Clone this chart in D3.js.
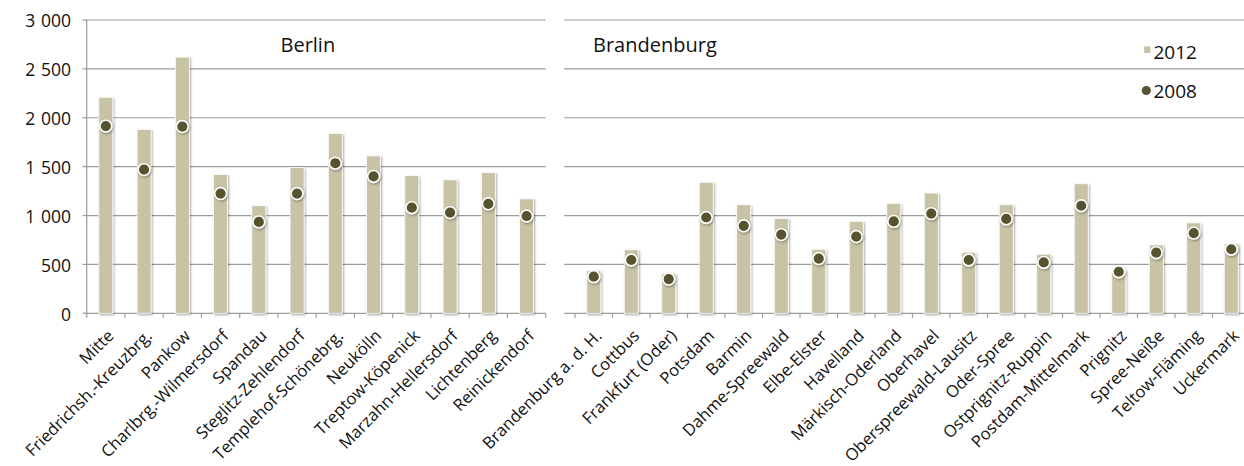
<!DOCTYPE html>
<html>
<head>
<meta charset="utf-8">
<script src="https://cdn.jsdelivr.net/npm/d3@7"></script>
<style>
  html, body { margin: 0; padding: 0; background: #fff; }
  svg { display: block; font-family: "Open Sans", "Noto Sans", sans-serif; }
</style>
</head>
<body>
<svg id="chart" width="1244" height="466"></svg>
<script>
// Districts of Berlin
const berlinDistricts = ["Mitte", "Friedrichsh.-Kreuzbrg.", "Pankow", "Charlbrg.-Wilmersdorf", "Spandau",
  "Steglitz-Zehlendorf", "Templehof-Schönebrg.", "Neukölln", "Treptow-Köpenick", "Marzahn-Hellersdorf",
  "Lichtenberg", "Reinickendorf"];
const berlin2012 = [2210, 1880, 2620, 1420, 1100, 1490, 1840, 1610, 1410, 1365, 1440, 1170];
const berlin2008 = [1915, 1470, 1910, 1225, 935, 1225, 1535, 1400, 1080, 1030, 1120, 995];

// Districts and cities of Brandenburg
const brbDistricts = ["Brandenburg a. d. H.", "Cottbus", "Frankfurt (Oder)", "Potsdam", "Barmin",
  "Dahme-Spreewald", "Elbe-Elster", "Havelland", "Märkisch-Oderland", "Oberhavel",
  "Oberspreewald-Lausitz", "Oder-Spree", "Ostprignitz-Ruppin", "Postdam-Mittelmark", "Prignitz",
  "Spree-Neiße", "Teltow-Fläming", "Uckermark"];
const brb2012 = [435, 650, 405, 1340, 1110, 970, 655, 940, 1125, 1230, 625, 1110, 605, 1325, 440, 700, 925, 710];
const brb2008 = [375, 545, 350, 980, 895, 805, 560, 785, 940, 1020, 545, 965, 520, 1100, 425, 620, 820, 655];

const yTicks = [0, 500, 1000, 1500, 2000, 2500, 3000];
const seriesNames = ["2012", "2008"];

const barColor = "#c8c3a5";
const dotColor = "#57532f";
const gridColor = "#9c9c9c";

const svg = d3.select("#chart");

const defs = svg.append("defs");
const shadow = defs.append("filter").attr("id", "shadow")
  .attr("x", "-50%").attr("y", "-50%").attr("width", "200%").attr("height", "200%");
shadow.append("feDropShadow").attr("dx", 1).attr("dy", 1.2).attr("stdDeviation", 1.1)
  .attr("flood-color", "#000").attr("flood-opacity", 0.35);

const locale = d3.formatLocale({ decimal: ",", thousands: "\u2009\u2009", grouping: [3], currency: ["", ""] });
const fmt = locale.format(",d");

const y = d3.scaleLinear().domain([0, 3000]).range([313.3, 20]);

const panels = [
  { title: "Berlin", names: berlinDistricts, v2012: berlin2012, v2008: berlin2008,
    range: [86.7, 545.7], gridFrom: 86.7, gridTo: 545.7, titleX: 280.5 },
  { title: "Brandenburg", names: brbDistricts, v2012: brb2012, v2008: brb2008,
    range: [575, 1250], gridFrom: 564.3, gridTo: 1250, titleX: 593 }
];

// y axis labels and left axis line
const yAxisG = svg.append("g");
yAxisG.selectAll("text").data(yTicks).join("text")
  .attr("x", 71).attr("y", d => y(d)).attr("dy", "0.42em")
  .attr("text-anchor", "end").attr("font-size", 17.5).attr("fill", "#111")
  .text(d => fmt(d));
yAxisG.selectAll("line.tick").data(yTicks).join("line")
  .attr("x1", 82.5).attr("x2", 86.7).attr("y1", d => y(d)).attr("y2", d => y(d))
  .attr("stroke", gridColor).attr("stroke-width", 1.2);
yAxisG.append("line")
  .attr("x1", 86.7).attr("x2", 86.7).attr("y1", y(3000)).attr("y2", y(0))
  .attr("stroke", gridColor).attr("stroke-width", 1.2);

panels.forEach(p => {
  const x = d3.scaleBand().domain(p.names).range(p.range).padding(0);
  const g = svg.append("g");

  // horizontal gridlines (0 line doubles as the category axis)
  g.selectAll("line.grid").data(yTicks).join("line")
    .attr("x1", p.gridFrom).attr("x2", p.gridTo)
    .attr("y1", d => y(d)).attr("y2", d => y(d))
    .attr("stroke", gridColor).attr("stroke-width", 1.2);

  // category tick marks at band boundaries
  const bounds = p.names.map(n => x(n)).concat([x(p.names[p.names.length - 1]) + x.bandwidth()]);
  g.selectAll("line.xt").data(bounds).join("line")
    .attr("x1", d => d).attr("x2", d => d).attr("y1", y(0)).attr("y2", y(0) + 4.5)
    .attr("stroke", gridColor).attr("stroke-width", 1.2);

  const cx = n => x(n) + x.bandwidth() / 2;
  const barW = 14;

  // 2012 bars
  g.selectAll("rect.bar").data(p.names).join("rect")
    .attr("x", n => cx(n) - barW / 2)
    .attr("y", (n, i) => y(p.v2012[i]))
    .attr("width", barW)
    .attr("height", (n, i) => y(0) - y(p.v2012[i]))
    .attr("fill", barColor)
    .attr("stroke", "#fff").attr("stroke-width", 0.8)
    .attr("filter", "url(#shadow)");

  // 2008 markers
  g.selectAll("circle.dot").data(p.names).join("circle")
    .attr("cx", n => cx(n))
    .attr("cy", (n, i) => y(p.v2008[i]))
    .attr("r", 5.9)
    .attr("fill", dotColor)
    .attr("stroke", "#fff").attr("stroke-width", 1.6)
    .attr("filter", "url(#shadow)");

  // rotated category labels
  g.selectAll("text.lbl").data(p.names).join("text")
    .attr("transform", n => `translate(${cx(n) + 9},${y(0) + 23.5}) rotate(-45)`)
    .attr("text-anchor", "end").attr("font-size", 16.6).attr("fill", "#111")
    .text(n => n);

  // panel title
  g.append("text").attr("x", p.titleX).attr("y", 52)
    .attr("font-size", 20).attr("fill", "#111").text(p.title);
});

// legend
const lg = svg.append("g");
lg.append("rect").attr("x", 1144).attr("y", 46.5).attr("width", 6.5).attr("height", 6.5).attr("fill", barColor);
lg.append("text").attr("x", 1153.5).attr("y", 59.3).attr("font-size", 19).attr("fill", "#111").text(seriesNames[0]);
lg.append("circle").attr("cx", 1146.3).attr("cy", 90.5).attr("r", 4.6).attr("fill", dotColor);
lg.append("text").attr("x", 1153.5).attr("y", 98.3).attr("font-size", 19).attr("fill", "#111").text(seriesNames[1]);
</script>
</body>
</html>
